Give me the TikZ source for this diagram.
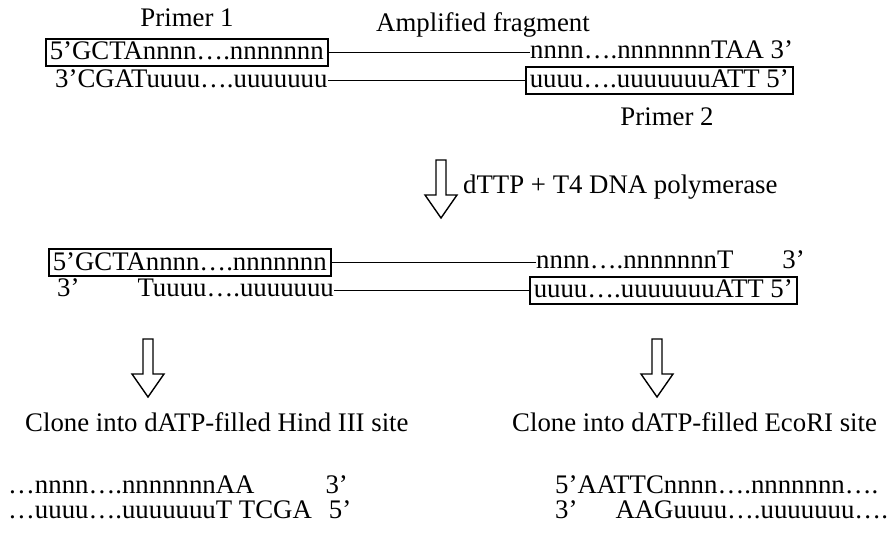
\documentclass[tikz,border=0pt]{standalone}
\usepackage{fontspec}
\setmainfont{Liberation Serif}
\usetikzlibrary{positioning}

% open arrow pointing down, top centre given
\newcommand{\hollowDown}[2]{%
  \draw[hollowArrow] (#1,#2) ++(-5,0) -- ++(10,0) -- ++(0,35) -- ++(11,0)
    -- ++(-16,23) -- ++(-16,-23) -- ++(11,0) -- cycle;}

\begin{document}
\begin{tikzpicture}[x={(1pt,0pt)}, y={(0pt,-1pt)},
    font=\fontsize{26.8}{30}\selectfont,
    strandText/.style={inner sep=0pt, anchor=base west},
    strandBox/.style={draw, line width=1.5pt, inner xsep=4pt, inner ysep=2pt,
                      text height=19pt, text depth=4pt, anchor=base west},
    titleText/.style={inner sep=0pt, anchor=base},
    link/.style={line width=1.8pt},
    hollowArrow/.style={line width=1.4pt, fill=white},
  ]

    \useasboundingbox (0,0) rectangle (889,540);

    %amplified fragment with primers
    \node[titleText] (primerA) at (187,27) {Primer 1};
    \node[titleText] (frag) at (483,32) {Amplified fragment};
    \node[strandBox] (boxA) at (45,60) {5’GCTAnnnn….nnnnnnn};
    \node[strandText] (topR) at (530,59) {nnnn….nnnnnnnTAA 3’};
    \node[strandText] (botL) at (55,88) {3’CGATuuuu….uuuuuuu};
    \node[strandBox] (boxB) at (525,88) {uuuu….uuuuuuuATT 5’};
    \node[titleText] (primerB) at (667,126) {Primer 2};

    \draw[link] (boxA) -- (boxA -| topR.west);
    \draw[link] (boxB) -- (boxB -| botL.east);

    %treatment step
    \hollowDown{441}{160}
    \node[strandText] (enzyme) at (463,194) {dTTP + T4 DNA polymerase};

    %fragment after T4 treatment
    \node[strandBox] (boxC) at (48,270) {5’GCTAnnnn….nnnnnnn};
    \node[strandText] (midR) at (536,269) {nnnn….nnnnnnnT\hspace{49pt}3’};
    \node[strandText] (midL) at (57,296) {3’\hspace{58pt}Tuuuu….uuuuuuu};
    \node[strandBox] (boxD) at (529,298) {uuuu….uuuuuuuATT 5’};

    \draw[link] (boxC) -- (boxC -| midR.west);
    \draw[link] (boxD) -- (boxD -| midL.east);

    %cloning steps
    \hollowDown{148}{339}
    \hollowDown{657}{339}
    \node[strandText] (cloneH) at (25,431) {Clone into dATP-filled Hind III site};
    \node[strandText] (cloneE) at (512,431) {Clone into dATP-filled EcoRI site};

    %cloned ends
    \node[strandText] (hindTop) at (8,493) {…nnnn….nnnnnnnAA\hspace{71pt}3’};
    \node[strandText] (hindBot) at (8,518) {…uuuu….uuuuuuuT TCGA\hspace{17pt}5’};
    \node[strandText] (ecoTop) at (555,493) {5’AATTCnnnn….nnnnnnn….};
    \node[strandText] (ecoBot) at (555,518) {3’\hspace{38pt}AAGuuuu….uuuuuuu….};

\end{tikzpicture}
\end{document}
